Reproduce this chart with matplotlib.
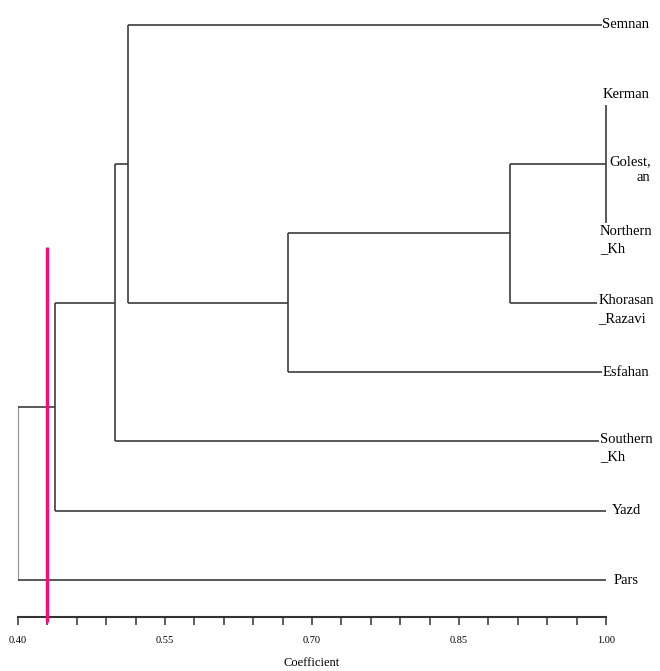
import numpy as np
import matplotlib
matplotlib.use("Agg")
import matplotlib.pyplot as plt

# leaves from top to bottom
leaves = ["Semnan", "Kerman", "Golestan", "Northern_Kh", "Khorasan_Razavi",
          "Esfahan", "Southern_Kh", "Yazd", "Pars"]
leaf_labels = ["Semnan", "Kerman", "Golest,\nan", "Northern\n_Kh", "Khorasan\n_Razavi",
               "Esfahan", "Southern\n_Kh", "Yazd", "Pars"]

# merge steps (children, similarity coefficient)
merge_children = [
    ["Kerman", "Golestan", "Northern_Kh"],
    ["n1", "Khorasan_Razavi"],
    ["n2", "Esfahan"],
    ["Semnan", "n3"],
    ["n4", "Southern_Kh"],
    ["n5", "Yazd"],
    ["n6", "Pars"],
]
merge_coef = [1.00, 0.902, 0.676, 0.512, 0.499, 0.438, 0.400]

cut_value = 0.43
tick_values = [0.40, 0.55, 0.70, 0.85, 1.00]
tick_labels = ["0.40", "0.55", "0.70", "0.85", "1.00"]

line_col = "#3c3c3c"
serif = "Liberation Serif"

fig = plt.figure(figsize=(6.6, 6.71), dpi=100)
ax = fig.add_axes([18 / 660, 54 / 671, 588 / 660, 617 / 671])

pos = {name: (1.0, i) for i, name in enumerate(leaves)}
for k, (kids, c) in enumerate(zip(merge_children, merge_coef)):
    ys = [pos[kid][1] for kid in kids]
    lo, hi = min(ys), max(ys)
    last = k == len(merge_children) - 1
    shrink = 0.15 if c >= 1.0 else 0.0
    ax.plot([c, c], [lo + shrink, hi - shrink],
            color="#9a9a9a" if last else line_col, lw=0.9 if last else 1.2,
            solid_capstyle="butt", clip_on=False)
    for kid in kids:
        x0, y0 = pos[kid]
        if x0 > c:
            ax.plot([c, x0], [y0, y0], color=line_col, lw=1.2,
                    solid_capstyle="butt", clip_on=False)
    pos[f"n{k + 1}"] = (c, (lo + hi) / 2)

# leaf names on the right
for i, lab in enumerate(leaf_labels):
    multi = "\n" in lab
    gol = lab.startswith("Golest")
    ax.annotate(lab, xy=(1.003 if gol else 1.0204, i),
                xytext=(0, 6 if multi else 0),
                textcoords="offset points", ha="left" if gol else "center",
                va="top" if multi else "center",
                multialignment="right" if gol else "left",
                fontsize=10.5, family=serif, color="black",
                linespacing=1.25 if gol else 1.45, annotation_clip=False, zorder=4,
                bbox=None if gol else dict(facecolor="white", edgecolor="none", pad=0.6))

# cut line
ax.vlines(cut_value, 3.2, 8.6, color="#ff0a78", lw=2.4, clip_on=False, zorder=5)

ax.set_xlim(0.40, 1.00)
ax.set_ylim(8.53, -0.36)
for s in ["left", "top", "right"]:
    ax.spines[s].set_visible(False)
ax.spines["bottom"].set_linewidth(1.5)
ax.spines["bottom"].set_color("#333333")
ax.set_yticks([])
ax.set_xticks(tick_values)
ax.set_xticklabels(tick_labels, family=serif, fontsize=7.5)
ax.set_xticks(np.linspace(0.40, 1.00, 21), minor=True)
ax.tick_params(axis="x", which="both", direction="out", length=6, width=1.1,
               color="#333333", pad=8)
ax.set_xlabel("Coefficient", family=serif, fontsize=9, labelpad=8)

fig.savefig("out.png", dpi=100)
